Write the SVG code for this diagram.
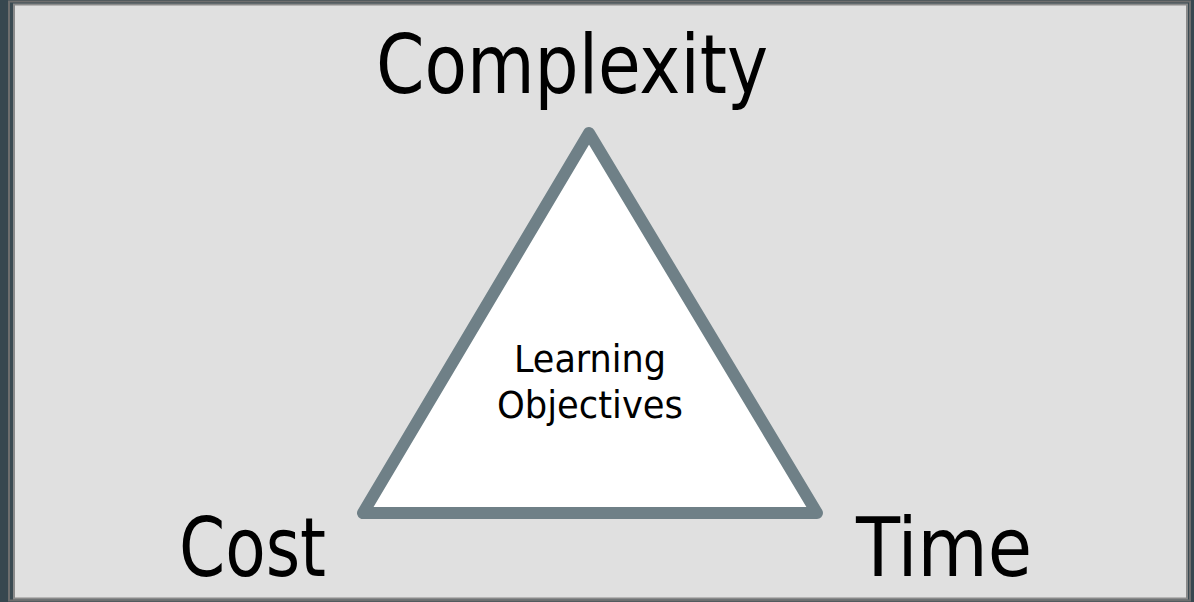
<svg xmlns="http://www.w3.org/2000/svg" width="1194" height="602" viewBox="0 0 1194 602">
<style>
.lbl{font-family:"DejaVu Sans Condensed","DejaVu Sans",sans-serif;fill:#000;text-anchor:middle}
.big{font-size:82px}
.small{font-size:37px}
</style>
<rect x="0" y="0" width="1194" height="602" fill="#37474f"/>
<rect x="9" y="1.5" width="1181" height="599" fill="#3a4a52" stroke="#6e6e6e" stroke-width="2"/>
<rect x="14" y="4.5" width="1173" height="594" fill="#e0e0e0" stroke="#8a8a8a" stroke-width="2"/>
<g id="triangle">
<polygon points="589,133 363,513 817,513" fill="#ffffff" stroke="#6f8087" stroke-width="12" stroke-linejoin="round"/>
<text class="lbl small" x="590" y="372" textLength="152" lengthAdjust="spacingAndGlyphs">Learning</text>
<text class="lbl small" x="590" y="418" textLength="186" lengthAdjust="spacingAndGlyphs">Objectives</text>
</g>
<g id="complexity"><text class="lbl big" x="572" y="93" textLength="392" lengthAdjust="spacingAndGlyphs">Complexity</text></g>
<g id="cost"><text class="lbl big" x="252.5" y="576" textLength="147" lengthAdjust="spacingAndGlyphs">Cost</text></g>
<g id="time"><text class="lbl big" x="944" y="576" textLength="176" lengthAdjust="spacingAndGlyphs">Time</text></g>
<g id="connectors"></g>
</svg>
